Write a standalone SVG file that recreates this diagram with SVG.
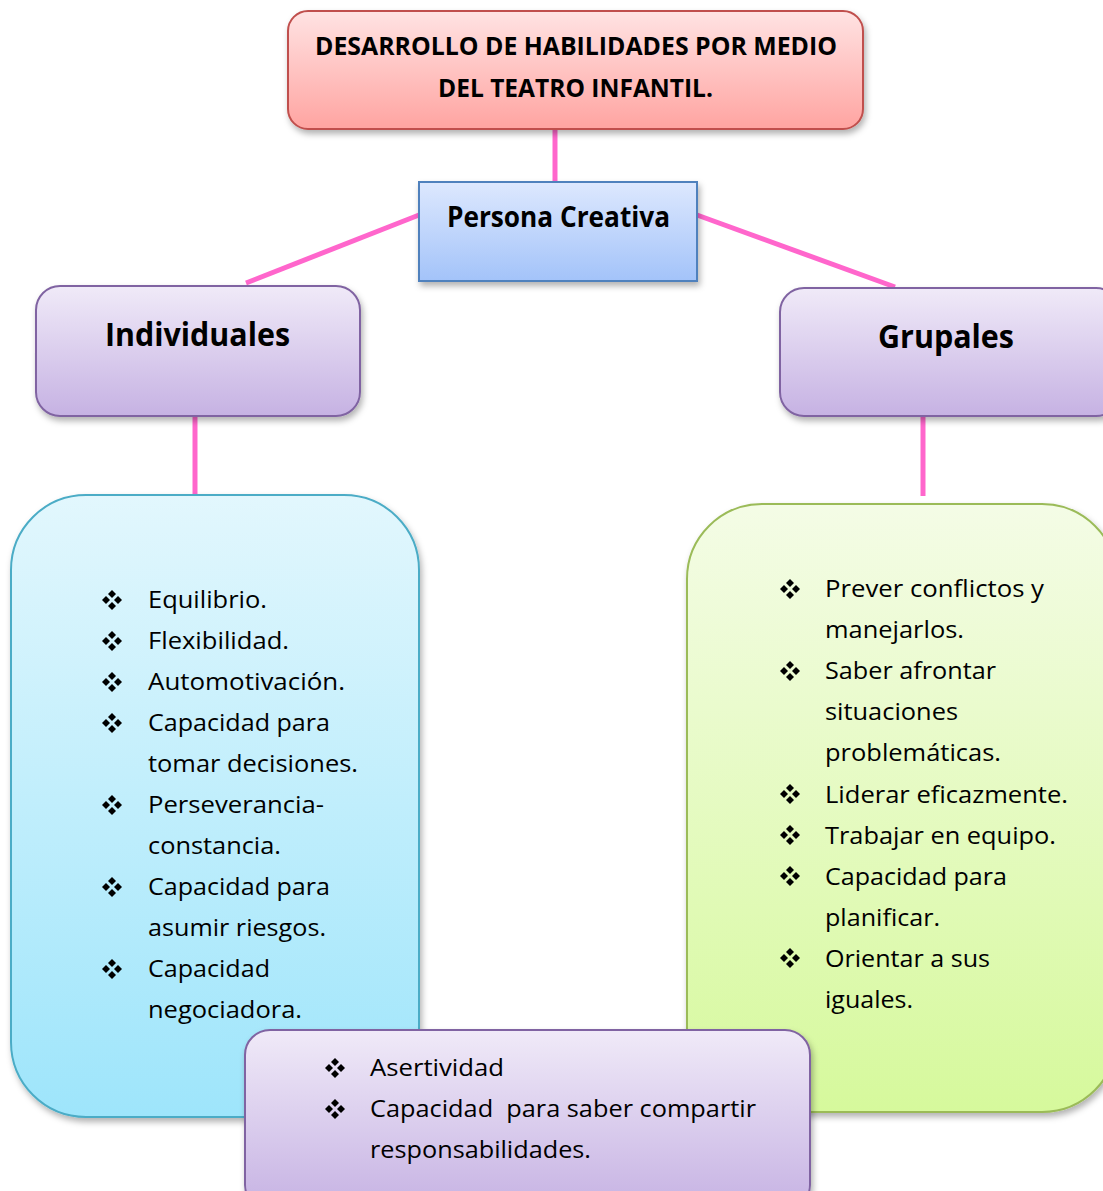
<svg xmlns="http://www.w3.org/2000/svg" xmlns:xlink="http://www.w3.org/1999/xlink" width="1103" height="1191" viewBox="0 0 1103 1191">
<style>
.conn{stroke:#FF66CC;stroke-width:5;fill:none}
.t{font-family:"Open Sans","Liberation Sans",sans-serif;fill:#000}
.b{font-weight:bold}
.item{font-size:23.5px}
</style>
<defs>
<linearGradient id="gRed" x1="0" y1="0" x2="0" y2="1"><stop offset="0" stop-color="#FFE3E3"/><stop offset="1" stop-color="#FFA4A1"/></linearGradient>
<linearGradient id="gBlue" x1="0" y1="0" x2="0" y2="1"><stop offset="0" stop-color="#DDE8FE"/><stop offset="1" stop-color="#A3C3F9"/></linearGradient>
<linearGradient id="gPurple" x1="0" y1="0" x2="0" y2="1"><stop offset="0" stop-color="#F0EAF8"/><stop offset="1" stop-color="#C6B2E3"/></linearGradient>
<linearGradient id="gCyan" x1="0" y1="0" x2="0" y2="1"><stop offset="0" stop-color="#E2F7FD"/><stop offset="1" stop-color="#9EE5FB"/></linearGradient>
<linearGradient id="gGreen" x1="0" y1="0" x2="0" y2="1"><stop offset="0" stop-color="#F4FCE6"/><stop offset="1" stop-color="#D6F99C"/></linearGradient>
<filter id="sh" x="-10%" y="-10%" width="130%" height="130%"><feDropShadow dx="2" dy="4" stdDeviation="3" flood-color="#000" flood-opacity="0.3"/></filter>
<g id="bul">
<path d="M0,-10 L4,-6 L0,-2 L-4,-6 Z M0,10 L4,6 L0,2 L-4,6 Z M-10,0 L-6,-4 L-2,0 L-6,4 Z M10,0 L6,-4 L2,0 L6,4 Z" fill="#000"/>
</g>
</defs>
<rect width="1103" height="1191" fill="#fff"/>

<g id="connectors">
<line class="conn" x1="555" y1="129" x2="555" y2="183"/>
<line class="conn" x1="419" y1="215" x2="246" y2="283"/>
<line class="conn" x1="697" y1="215" x2="895" y2="287"/>
<line class="conn" x1="195" y1="416" x2="195" y2="496"/>
<line class="conn" x1="923" y1="416" x2="923" y2="496"/>
</g>

<g id="title">
<rect x="288" y="11" width="575" height="118" rx="20" fill="url(#gRed)" stroke="#C0504D" stroke-width="2" filter="url(#sh)"/>
<text class="t b" x="315" y="55" font-size="25" textLength="522" lengthAdjust="spacingAndGlyphs">DESARROLLO DE HABILIDADES POR MEDIO</text>
<text class="t b" x="438" y="97" font-size="25" textLength="275" lengthAdjust="spacingAndGlyphs">DEL TEATRO INFANTIL.</text>
</g>

<g id="persona">
<rect x="419" y="182" width="278" height="99" fill="url(#gBlue)" stroke="#4F81BD" stroke-width="2" filter="url(#sh)"/>
<text class="t b" x="447" y="227" font-size="28" textLength="223" lengthAdjust="spacingAndGlyphs">Persona Creativa</text>
</g>

<g id="individuales">
<rect x="36" y="286" width="324" height="130" rx="24" fill="url(#gPurple)" stroke="#8064A2" stroke-width="2" filter="url(#sh)"/>
<text class="t b" x="105" y="346" font-size="33" textLength="185" lengthAdjust="spacingAndGlyphs">Individuales</text>
</g>

<g id="grupales">
<rect x="780" y="288" width="340" height="128" rx="24" fill="url(#gPurple)" stroke="#8064A2" stroke-width="2" filter="url(#sh)"/>
<text class="t b" x="878" y="348" font-size="33" textLength="136" lengthAdjust="spacingAndGlyphs">Grupales</text>
</g>

<g id="lista-individuales">
<rect x="11" y="495" width="408" height="622" rx="75" fill="url(#gCyan)" stroke="#4BACC6" stroke-width="2" filter="url(#sh)"/>
<use xlink:href="#bul" x="112" y="600"/>
<use xlink:href="#bul" x="112" y="641"/>
<use xlink:href="#bul" x="112" y="682"/>
<use xlink:href="#bul" x="112" y="723"/>
<use xlink:href="#bul" x="112" y="805"/>
<use xlink:href="#bul" x="112" y="887"/>
<use xlink:href="#bul" x="112" y="969"/>
<text class="t item" x="148" y="608" textLength="119" lengthAdjust="spacingAndGlyphs">Equilibrio.</text>
<text class="t item" x="148" y="649" textLength="141" lengthAdjust="spacingAndGlyphs">Flexibilidad.</text>
<text class="t item" x="148" y="690" textLength="197" lengthAdjust="spacingAndGlyphs">Automotivación.</text>
<text class="t item" x="148" y="731" textLength="182" lengthAdjust="spacingAndGlyphs">Capacidad para</text>
<text class="t item" x="148" y="772" textLength="210" lengthAdjust="spacingAndGlyphs">tomar decisiones.</text>
<text class="t item" x="148" y="813" textLength="176" lengthAdjust="spacingAndGlyphs">Perseverancia-</text>
<text class="t item" x="148" y="854" textLength="133" lengthAdjust="spacingAndGlyphs">constancia.</text>
<text class="t item" x="148" y="895" textLength="182" lengthAdjust="spacingAndGlyphs">Capacidad para</text>
<text class="t item" x="148" y="936" textLength="178" lengthAdjust="spacingAndGlyphs">asumir riesgos.</text>
<text class="t item" x="148" y="977" textLength="122" lengthAdjust="spacingAndGlyphs">Capacidad</text>
<text class="t item" x="148" y="1018" textLength="154" lengthAdjust="spacingAndGlyphs">negociadora.</text>
</g>

<g id="lista-grupales">
<rect x="687" y="504" width="430" height="608" rx="75" fill="url(#gGreen)" stroke="#9BBB59" stroke-width="2" filter="url(#sh)"/>
<use xlink:href="#bul" x="790" y="589"/>
<use xlink:href="#bul" x="790" y="671"/>
<use xlink:href="#bul" x="790" y="794"/>
<use xlink:href="#bul" x="790" y="835"/>
<use xlink:href="#bul" x="790" y="876"/>
<use xlink:href="#bul" x="790" y="958"/>
<text class="t item" x="825" y="597" textLength="219" lengthAdjust="spacingAndGlyphs">Prever conflictos y</text>
<text class="t item" x="825" y="638" textLength="139" lengthAdjust="spacingAndGlyphs">manejarlos.</text>
<text class="t item" x="825" y="679" textLength="171" lengthAdjust="spacingAndGlyphs">Saber afrontar</text>
<text class="t item" x="825" y="720" textLength="133" lengthAdjust="spacingAndGlyphs">situaciones</text>
<text class="t item" x="825" y="761" textLength="176" lengthAdjust="spacingAndGlyphs">problemáticas.</text>
<text class="t item" x="825" y="803" textLength="243" lengthAdjust="spacingAndGlyphs">Liderar eficazmente.</text>
<text class="t item" x="825" y="844" textLength="231" lengthAdjust="spacingAndGlyphs">Trabajar en equipo.</text>
<text class="t item" x="825" y="885" textLength="182" lengthAdjust="spacingAndGlyphs">Capacidad para</text>
<text class="t item" x="825" y="926" textLength="115" lengthAdjust="spacingAndGlyphs">planificar.</text>
<text class="t item" x="825" y="967" textLength="165" lengthAdjust="spacingAndGlyphs">Orientar a sus</text>
<text class="t item" x="825" y="1008" textLength="88" lengthAdjust="spacingAndGlyphs">iguales.</text>
</g>

<g id="comunes">
<rect x="245" y="1030" width="565" height="180" rx="25" fill="url(#gPurple)" stroke="#8064A2" stroke-width="2" filter="url(#sh)"/>
<use xlink:href="#bul" x="335" y="1068"/>
<use xlink:href="#bul" x="335" y="1109"/>
<text class="t item" x="370" y="1076" textLength="134" lengthAdjust="spacingAndGlyphs">Asertividad</text>
<text class="t item" x="370" y="1117" textLength="386" lengthAdjust="spacingAndGlyphs" xml:space="preserve">Capacidad  para saber compartir</text>
<text class="t item" x="370" y="1158" textLength="221" lengthAdjust="spacingAndGlyphs">responsabilidades.</text>
</g>
</svg>
